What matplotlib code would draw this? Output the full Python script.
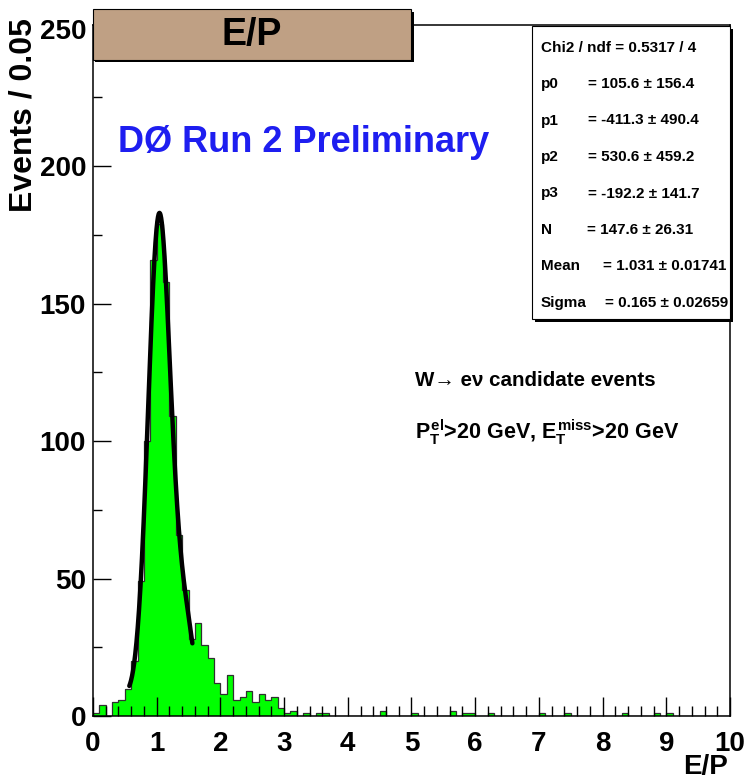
import numpy as np
import matplotlib.pyplot as plt
from matplotlib.patches import Rectangle
from matplotlib.ticker import MultipleLocator

plt.rcParams['font.family'] = ['Liberation Sans', 'DejaVu Sans']
plt.rcParams['font.weight'] = 'bold'
plt.rcParams['mathtext.fontset'] = 'custom'
plt.rcParams['mathtext.rm'] = 'Liberation Sans:bold'
plt.rcParams['mathtext.it'] = 'Liberation Sans:bold'
plt.rcParams['mathtext.bf'] = 'Liberation Sans:bold'

# E/P distribution, 0.1 wide bins from 0 to 10 (one row per unit)
bin_edges = np.linspace(0.0, 10.0, 101)
counts = np.array([
    1, 4, 0, 5, 6, 10, 20, 49, 100, 166,
    179, 158, 109, 66, 46, 28, 34, 26, 21, 12,
    8, 15, 6, 7, 9, 5, 8, 6, 7, 3,
    1, 2, 0, 1, 0, 1, 1, 0, 0, 0,
    0, 0, 0, 0, 0, 2, 0, 0, 0, 0,
    1, 0, 0, 0, 0, 0, 2, 0, 1, 1,
    0, 0, 1, 0, 0, 0, 0, 0, 0, 0,
    1, 0, 0, 0, 1, 0, 0, 0, 0, 0,
    0, 0, 0, 1, 0, 0, 0, 0, 1, 0,
    1, 0, 0, 0, 0, 0, 0, 0, 0, 0,
])

# fit result: pol3 + gaussian
p0, p1, p2, p3 = 105.6, -411.3, 530.6, -192.2
norm, mean, sigma = 147.6, 1.031, 0.165
fit_range = (0.57, 1.56)

stat_names = ["p0", "p1", "p2", "p3", "N", "Mean", "Sigma"]
stat_values = ["= 105.6 \u00b1 156.4", "= -411.3 \u00b1 490.4", "= 530.6 \u00b1 459.2",
               "= -192.2 \u00b1 141.7", "= 147.6 \u00b1 26.31", "= 1.031 \u00b1 0.01741",
               "= 0.165 \u00b1 0.02659"]
stat_value_x = [588, 588, 588, 588, 587, 603, 605]
chi2_text = "Chi2 / ndf = 0.5317 / 4"

W, H = 748, 781
fig = plt.figure(figsize=(W / 100, H / 100), dpi=100)
ax = fig.add_axes([93 / W, 1 - 716 / H, (730 - 93) / W, (716 - 25) / H])


def fit_func(x):
    poly = p0 + p1 * x + p2 * x ** 2 + p3 * x ** 3
    return poly + norm * np.exp(-0.5 * ((x - mean) / sigma) ** 2)


ax.stairs(counts, bin_edges, fill=True, color='#00ff00', lw=0)
ax.stairs(counts, bin_edges, color='#303030', lw=0.9)
xf = np.linspace(fit_range[0], fit_range[1], 300)
ax.plot(xf, fit_func(xf), color='black', lw=3.2, solid_capstyle='round')

ax.set_xlim(0, 10)
ax.set_ylim(0, 251.3)
ax.xaxis.set_major_locator(MultipleLocator(1))
ax.xaxis.set_minor_locator(MultipleLocator(0.2))
ax.yaxis.set_major_locator(MultipleLocator(50))
ax.yaxis.set_minor_locator(MultipleLocator(25))
ax.tick_params(axis='x', which='major', direction='in', length=14, width=1.0, pad=11, labelsize=20)
ax.tick_params(axis='x', which='minor', direction='in', length=7, width=1.0)
ax.tick_params(axis='y', which='major', direction='in', length=13, width=1.0, pad=5, labelsize=20)
ax.tick_params(axis='y', which='minor', direction='in', length=6.5, width=1.0)
for lab in ax.get_xticklabels() + ax.get_yticklabels():
    lab.set_fontweight('bold')
for sp in ax.spines.values():
    sp.set_linewidth(1.1)


def fig_box(x0, y0, x1, y1, **kw):
    rect = Rectangle((x0 / W, 1 - y1 / H), (x1 - x0) / W, (y1 - y0) / H,
                     transform=fig.transFigure, **kw)
    fig.add_artist(rect)


# title box with shadow
fig_box(95, 12, 414, 62, facecolor='black', edgecolor='none', zorder=5)
fig_box(92.5, 9.5, 411, 60, facecolor='#bfa084', edgecolor='black', lw=0.8, zorder=6)
fig.text(252 / W, 1 - 35 / H, "E/P", fontsize=27, fontweight='bold',
         ha='center', va='center', zorder=7)

# fit statistics box
fig_box(535, 29, 733, 322, facecolor='black', edgecolor='none', zorder=5)
fig_box(532, 26, 730, 319, facecolor='white', edgecolor='black', lw=0.8, zorder=6)
fig.text(541 / W, 1 - 48 / H, chi2_text, fontsize=11, fontweight='bold',
         ha='left', va='center', zorder=7)
for i, (name, val, vx) in enumerate(zip(stat_names, stat_values, stat_value_x)):
    y = 84 + 36.5 * i
    fig.text(541 / W, 1 - y / H, name, fontsize=11, fontweight='bold',
             ha='left', va='center', zorder=7)
    fig.text(vx / W, 1 - y / H, val, fontsize=11, fontweight='bold',
             ha='left', va='center', zorder=7)

fig.text(304 / W, 1 - 143 / H, "D\u00d8 Run 2 Preliminary", fontsize=26,
         fontweight='bold', color='#1e1ef0', ha='center', va='center')
fig.text(415 / W, 1 - 381 / H, "W\u2192 e\u03bd candidate events", fontsize=14.8,
         fontweight='bold', ha='left', va='center')
fig.text(415 / W, 1 - 432 / H, r"$P_{T}^{el}$>20 GeV, $E_{T}^{miss}$>20 GeV",
         fontsize=15.5, fontweight='bold', ha='left', va='center')

fig.text(24 / W, 1 - 18 / H, "Events / 0.05", fontsize=23, fontweight='bold',
         rotation=90, ha='center', va='top')
fig.text(728 / W, 1 - 780 / H, "E/P", fontsize=20, fontweight='bold',
         ha='right', va='bottom')

fig.savefig('out.png', dpi=100)
